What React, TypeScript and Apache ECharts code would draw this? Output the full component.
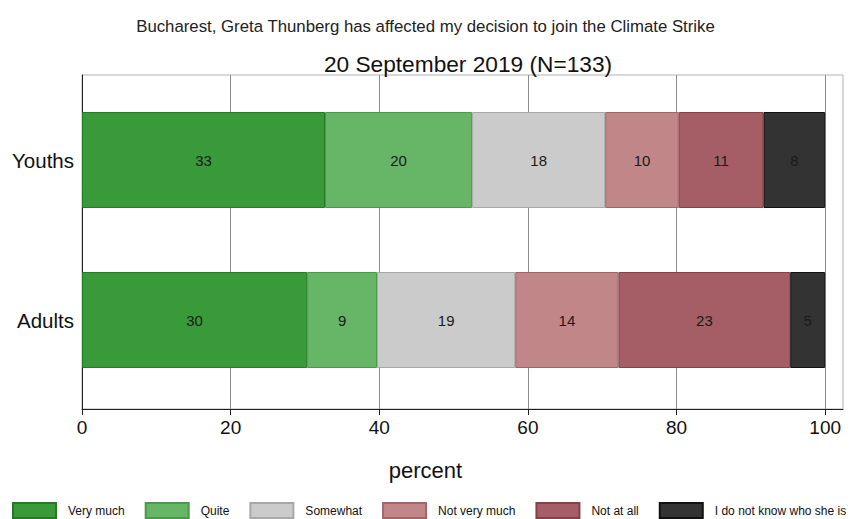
import React, { useEffect, useRef } from "react";
import * as echarts from "echarts";

const categories = ["Youths", "Adults"];
const seriesNames = ["Very much", "Quite", "Somewhat", "Not very much", "Not at all", "I do not know who she is"];
// values per response, [Youths, Adults]
const veryMuch = [32.7, 30.3];
const quite = [19.8, 9.4];
const somewhat = [17.9, 18.6];
const notVeryMuch = [9.9, 13.9];
const notAtAll = [11.4, 23.1];
const dontKnow = [8.3, 4.7];
const xTicks = [0, 20, 40, 60, 80, 100];

const fills = ["#389a38", "#67b567", "#cbcbcb", "#c18688", "#a55e65", "#333333"];
const borders = ["#257a25", "#4a9a4a", "#a8a8a8", "#a5646a", "#86404a", "#111111"];

const FONT = "'Liberation Sans', Arial, Helvetica, sans-serif";

export default function App() {
  const ref = useRef<HTMLDivElement>(null);
  useEffect(() => {
    if (!ref.current) return;
    const chart = echarts.init(ref.current, null, { renderer: "svg" });
    const allValues = [veryMuch, quite, somewhat, notVeryMuch, notAtAll, dontKnow];
    chart.setOption({
      animation: false,
      textStyle: { fontFamily: FONT },
      title: [
        {
          text: "Bucharest, Greta Thunberg has affected my decision to join the Climate Strike",
          left: "center",
          top: 13,
          textStyle: { fontSize: 16.8, fontWeight: "normal", color: "#222", fontFamily: FONT },
        },
        {
          text: "20 September 2019 (N=133)",
          left: 463,
          textAlign: "center",
          top: 47,
          textStyle: { fontSize: 22.7, fontWeight: "normal", color: "#111", fontFamily: FONT },
        },
        {
          text: "percent",
          left: "center",
          top: 454,
          textStyle: { fontSize: 22, fontWeight: "normal", color: "#111", fontFamily: FONT },
        },
      ],
      legend: {
        top: 502,
        left: 12,
        width: 839,
        padding: 0,
        itemWidth: 43,
        itemHeight: 15,
        itemGap: 20,
        icon: "rect",
        textStyle: { fontSize: 12, color: "#111", fontFamily: FONT, padding: [0, 0, 0, 7] },
        data: seriesNames,
      },
      grid: [
        {
          left: 82,
          right: 8,
          top: 75,
          bottom: 110,
          show: true,
          borderColor: "#b0b0b0",
          borderWidth: 1,
        },
        {
          left: 82,
          right: 8,
          top: 80,
          bottom: 119,
        },
      ],
      xAxis: [
        {
          type: "value",
          gridIndex: 0,
          min: 0,
          max: 102.4,
          interval: 20,
          axisLine: { show: true, lineStyle: { color: "#222", width: 1 } },
          axisTick: { show: true, length: 6, customValues: xTicks, lineStyle: { color: "#222" } },
          axisLabel: {
            customValues: xTicks,
            fontSize: 19,
            color: "#111",
            margin: 9,
            fontFamily: FONT,
          },
          splitLine: { show: true, lineStyle: { color: "#8c8c8c", width: 1 } },
        },
        {
          type: "value",
          gridIndex: 1,
          min: 0,
          max: 102.4,
          interval: 20,
          show: false,
        },
      ],
      yAxis: [
        {
          type: "category",
          gridIndex: 0,
          data: categories,
          inverse: true,
          axisLine: { show: true, lineStyle: { color: "#222", width: 1 } },
          axisTick: { show: false },
          axisLabel: { show: false },
          splitLine: { show: false },
        },
        {
          type: "category",
          gridIndex: 1,
          data: categories,
          inverse: true,
          axisLine: { show: false },
          axisTick: { show: false },
          axisLabel: { fontSize: 20.5, color: "#111", margin: 8, fontFamily: FONT },
          splitLine: { show: false },
        },
      ],
      series: seriesNames.map((name, i) => ({
        name,
        type: "bar",
        stack: "total",
        xAxisIndex: 1,
        yAxisIndex: 1,
        barWidth: 96,
        data: allValues[i],
        itemStyle: { color: fills[i], borderColor: borders[i], borderWidth: 1 },
        label: {
          show: true,
          position: "inside",
          fontSize: 15,
          color: "#1a1a1a",
          fontFamily: FONT,
          formatter: (p: any) => String(Math.round(p.value)),
        },
      })),
    });
    return () => chart.dispose();
  }, []);
  return (
    <div
      ref={ref}
      style={{ position: "fixed", left: 0, top: 0, width: 851, height: 519, background: "#fff" }}
    />
  );
}
